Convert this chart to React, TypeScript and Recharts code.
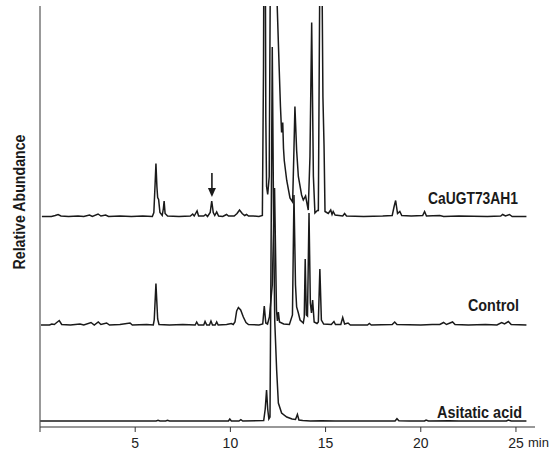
import React from "react";
import { LineChart, Line, XAxis, YAxis, ReferenceLine, ReferenceDot } from "recharts";

// Retention time (min) and relative abundance (arbitrary units above each trace's baseline)
const caugtTime = [0.1,0.6,0.8,0.95,1.1,1.5,2.0,2.3,2.6,2.75,3.05,3.2,3.45,3.6,4.2,4.8,5.4,5.9,5.98,6.04,6.09,6.14,6.18,6.23,6.3,6.42,6.48,6.52,6.57,6.7,7.3,7.9,8.02,8.1,8.25,8.33,8.6,8.7,8.8,8.94,9.02,9.1,9.18,9.28,9.38,9.6,9.8,9.9,10.2,10.35,10.48,10.62,10.75,10.85,10.95,11.2,11.5,11.68,11.74,11.8,11.86,11.9,11.96,12.04,12.1,12.2,12.35,12.46,12.56,12.63,12.69,12.75,12.79,12.83,12.96,13.13,13.27,13.33,13.39,13.48,13.57,13.74,13.83,13.95,14.09,14.18,14.27,14.36,14.44,14.57,14.62,14.7,14.74,14.79,14.86,14.92,14.97,15.14,15.27,15.34,15.4,15.5,15.9,16.0,16.1,17.0,18.0,18.5,18.6,18.68,18.78,18.9,19.0,19.5,20.1,20.2,20.3,21.0,21.2,22.0,23.5,24.2,24.3,24.45,24.66,24.8,25.55];
const caugtValue = [0,0,1,2,0.5,0,0.5,0,1.5,0,2.5,0.5,1.5,0,0.5,0,0.5,0,4,30,53,30,19,17,4,1,8,15.5,3,0.5,0,0.5,2.5,0.5,5.5,0.5,0.5,2,0,4,15.5,4,1,4.5,0.5,0,2,0.5,0.5,3,6.5,3,1,2,0.5,0.5,0,1,150,500,100,30,22,40,250,700,500,210,150,110,84,94,68,56,36,18.5,14.5,60,110,66,40,21.5,16.5,20.5,6.5,60,194,40,3.5,6,6,250,800,300,120,70,5,3,6.5,2,5,1.5,0.5,3,0.5,0,0.5,1,10,16,3,5,1,0.5,1,5,0.5,1,0,0.5,0,0.5,2,0.5,2,0,0];

const controlTime = [0.05,0.5,0.62,0.75,0.88,1.01,1.14,1.6,2.1,2.3,2.68,2.85,3.06,3.2,3.5,3.65,4.2,4.73,4.85,5.6,5.95,6.0,6.09,6.18,6.25,6.8,7.5,8.15,8.23,8.32,8.6,8.67,8.76,8.9,8.98,9.06,9.2,9.28,9.36,9.8,10.05,10.15,10.24,10.33,10.42,10.54,10.68,10.82,10.95,11.5,11.7,11.78,11.86,11.95,12.05,12.2,12.32,12.42,12.47,12.52,12.58,12.8,13.1,13.26,13.34,13.42,13.48,13.57,13.66,13.83,13.88,13.93,13.99,14.05,14.13,14.2,14.26,14.32,14.4,14.55,14.62,14.7,14.78,14.9,15.3,15.44,15.52,15.8,15.9,16.0,16.18,16.3,17.2,17.3,17.4,18.5,18.63,18.75,20.0,20.6,21.0,21.2,21.35,21.67,21.8,22.5,23.4,24.0,24.25,24.4,24.6,24.75,25.55];
const controlValue = [0,0,1,0.5,2.5,4.5,0.5,0,1,0,2.5,0,3,0.5,2,0,0.5,2,0,0.5,0,5,41.5,6,0.5,0,0.5,0,3,0,0,3.5,0,0,4,0,0,3,0,0.5,1.5,0.5,3,14,17.5,15,8,2.5,0.5,0,1,19,2,1,8,40,137,15,4,13,3,1,0.5,10,130,40,18,12,5,2,8,66,10,9,112,22,12,25,3,1.5,3,56,5,1,0.5,3.5,0.5,0.5,7.5,1,2,0,0,1.5,0,0.5,3,0.5,0,0.5,0.5,2.5,0.5,3,0.5,0,0.5,0,2.5,1,3.5,0.5,0];

const asiaticTime = [0.0,1.0,3.0,6.1,6.2,6.3,6.6,6.7,6.8,9.0,9.9,9.97,10.05,10.45,10.55,10.65,11.75,11.83,11.9,11.96,12.02,12.08,12.13,12.2,12.27,12.33,12.43,12.52,12.69,12.96,13.24,13.42,13.52,13.6,13.8,14.2,14.8,15.5,18.65,18.75,18.85,19.4,20.2,20.28,20.4,21.5,22.0,24.5,24.6,24.75,25.55];
const asiaticValue = [0,0,0,0,0.7,0,0,0.7,0,0,0,2,0,0,1.3,0,0.5,12,31,12,2,4,150,374,200,100,51,18,8,4,2,1.5,6.5,1,0.5,0,0.3,0,0,2.3,0.3,0,0,1,0,0.3,0,0,1,0,0];

const seriesNames = ["CaUGT73AH1", "Control", "Asitatic acid"];
const xTicks = [0, 5, 10, 15, 20, 25];
const arrowTime = 9.03;

// stacking offsets (vertical placement of each trace)
const offsets = [210.5, 102, 6];

const build = (ts: number[], vs: number[], off: number) =>
  ts.map((t, i) => ({ t, v: vs[i] + off }));

const caugtData = build(caugtTime, caugtValue, offsets[0]);
const controlData = build(controlTime, controlValue, offsets[1]);
const asiaticData = build(asiaticTime, asiaticValue, offsets[2]);

const FONT = "'Liberation Sans', Arial, Helvetica, sans-serif";
const INK = "#1a1a1a";

const ArrowHead = (props: any) => {
  const { cx, cy } = props;
  if (cx == null || cy == null) return null;
  return <polygon points={`${cx - 4},${cy - 4.5} ${cx + 4},${cy - 4.5} ${cx},${cy + 4.5}`} fill={INK} />;
};

export default function App() {
  return (
    <div style={{ position: "absolute", left: 0, top: 0, width: 550, height: 453, background: "#fff" }}>
      <LineChart width={550} height={453} margin={{ top: 6, right: 15, bottom: 0, left: 0 }}>
        <XAxis
          type="number"
          dataKey="t"
          domain={[0, 26]}
          ticks={xTicks}
          allowDataOverflow
          height={26}
          tickSize={5}
          tickMargin={6}
          tickFormatter={(v: number) => (v === 0 ? "" : String(v))}
          axisLine={{ stroke: "#333", strokeWidth: 1.2 }}
          tickLine={{ stroke: "#333" }}
          tick={{ fontSize: 14, fill: "#222", fontFamily: FONT }}
        />
        <YAxis
          type="number"
          domain={[0, 421]}
          allowDataOverflow
          width={40}
          tick={false}
          tickLine={false}
          axisLine={{ stroke: "#555", strokeWidth: 1.2 }}
        />
        <Line data={caugtData} dataKey="v" type="linear" stroke={INK} strokeWidth={1.5} dot={false} isAnimationActive={false} />
        <Line data={controlData} dataKey="v" type="linear" stroke={INK} strokeWidth={1.5} dot={false} isAnimationActive={false} />
        <Line data={asiaticData} dataKey="v" type="linear" stroke={INK} strokeWidth={1.5} dot={false} isAnimationActive={false} />
        <ReferenceLine segment={[{ x: arrowTime, y: 254 }, { x: arrowTime, y: 238 }]} stroke={INK} strokeWidth={1.6} />
        <ReferenceDot x={arrowTime} y={234.5} r={4} shape={ArrowHead} />
        <text x={428} y={204} fontFamily={FONT} fontWeight="bold" fontSize={17} fill={INK} textLength={90} lengthAdjust="spacingAndGlyphs">{seriesNames[0]}</text>
        <text x={468} y={311} fontFamily={FONT} fontWeight="bold" fontSize={17} fill={INK} textLength={51} lengthAdjust="spacingAndGlyphs">{seriesNames[1]}</text>
        <text x={437} y={418} fontFamily={FONT} fontWeight="bold" fontSize={17} fill={INK} textLength={85} lengthAdjust="spacingAndGlyphs">{seriesNames[2]}</text>
        <text x={528} y={447} fontFamily={FONT} fontSize={13} fill="#222">min</text>
        <text transform="translate(25,202) rotate(-90)" textAnchor="middle" fontFamily={FONT} fontWeight="bold" fontSize={17} fill={INK} textLength={135} lengthAdjust="spacingAndGlyphs">Relative Abundance</text>
      </LineChart>
    </div>
  );
}
